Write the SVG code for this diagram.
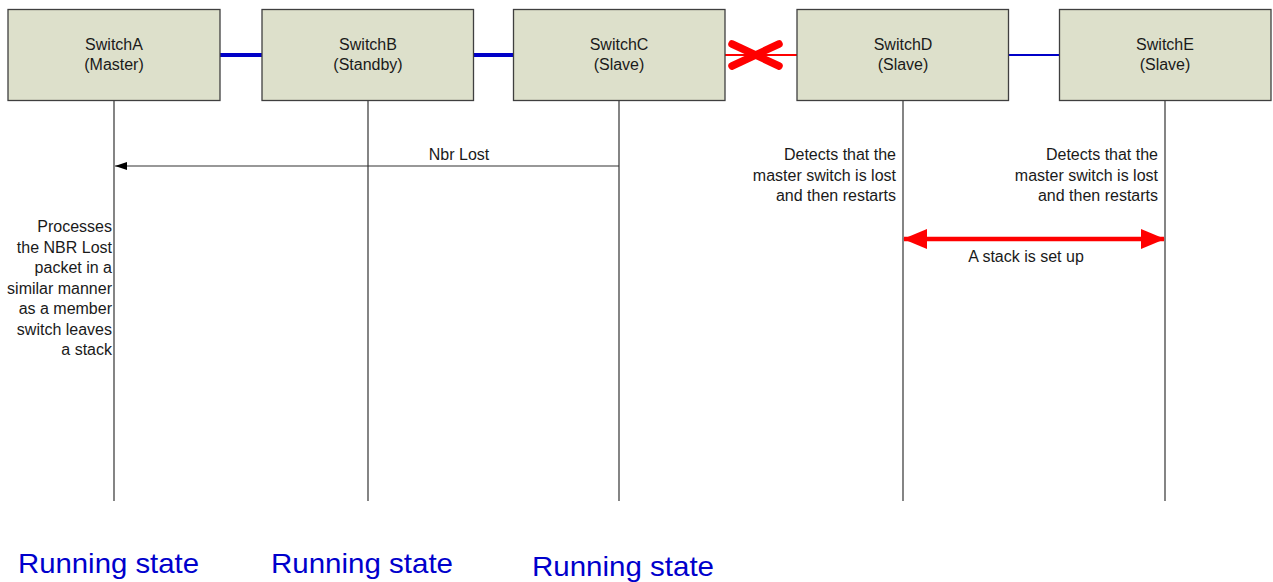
<svg xmlns="http://www.w3.org/2000/svg" width="1273" height="582" viewBox="0 0 1273 582">
  <style>
    .box { fill: #dde0cb; stroke: #3f3f3f; stroke-width: 1.3; }
    .lbl { font-family: "Liberation Sans", Arial, sans-serif; font-size: 16px; fill: #1a1a1a; }
    .mid { text-anchor: middle; }
    .end { text-anchor: end; }
    .life { stroke: #333333; stroke-width: 1.2; fill: none; }
    .state { font-family: "Liberation Sans", Arial, sans-serif; font-size: 28px; fill: #0000cc; }
  </style>
  <defs>
    <marker id="msgHead" viewBox="0 0 12 8" refX="12" refY="4" markerWidth="12" markerHeight="8" markerUnits="userSpaceOnUse" orient="auto-start-reverse">
      <path d="M0,0 L12,4 L0,8 z" fill="#000000"/>
    </marker>
    <marker id="redHead" viewBox="0 0 24 20" refX="23" refY="10" markerWidth="24" markerHeight="20" markerUnits="userSpaceOnUse" orient="auto-start-reverse">
      <path d="M0,0 L24,10 L0,20 z" fill="#ff0000"/>
    </marker>
  </defs>

  <!-- stack links between the switches -->
  <g id="connectors">
    <line x1="220" y1="55" x2="262" y2="55" stroke="#0000c8" stroke-width="4"/>
    <line x1="473" y1="55" x2="514" y2="55" stroke="#0000c8" stroke-width="4"/>
    <line x1="725" y1="55" x2="797" y2="55" stroke="#ff0000" stroke-width="2"/>
    <line x1="1008" y1="55" x2="1059" y2="55" stroke="#0000c8" stroke-width="2"/>
    <!-- broken link mark -->
    <g stroke="#ff0000" stroke-width="7.5" stroke-linecap="round">
      <line x1="732" y1="44" x2="779" y2="66"/>
      <line x1="732" y1="66" x2="779" y2="44"/>
    </g>

    <!-- lifelines -->
    <line class="life" x1="114" y1="100" x2="114" y2="501"/>
    <line class="life" x1="368" y1="100" x2="368" y2="501" stroke="#555555"/>
    <line class="life" x1="619" y1="100" x2="619" y2="501"/>
    <line class="life" x1="903" y1="100" x2="903" y2="501"/>
    <line class="life" x1="1165" y1="100" x2="1165" y2="501"/>

    <!-- Nbr Lost message -->
    <line x1="619" y1="166" x2="115" y2="166" stroke="#333333" stroke-width="1.2" marker-end="url(#msgHead)"/>
    <text class="lbl mid" x="459" y="160">Nbr Lost</text>

    <!-- new stack between D and E -->
    <line x1="904" y1="239" x2="1164" y2="239" stroke="#ff0000" stroke-width="4.5" marker-start="url(#redHead)" marker-end="url(#redHead)"/>
    <text class="lbl mid" x="1026" y="262">A stack is set up</text>
  </g>

  <g id="switchA">
    <rect class="box" x="8" y="9.5" width="212" height="91"/>
    <text class="lbl mid" x="114" y="50">SwitchA</text>
    <text class="lbl mid" x="114" y="70">(Master)</text>
  </g>
  <g id="switchB">
    <rect class="box" x="262" y="9.5" width="211.5" height="91"/>
    <text class="lbl mid" x="368" y="50">SwitchB</text>
    <text class="lbl mid" x="368" y="70">(Standby)</text>
  </g>
  <g id="switchC">
    <rect class="box" x="513.5" y="9.5" width="211.5" height="91"/>
    <text class="lbl mid" x="619" y="50">SwitchC</text>
    <text class="lbl mid" x="619" y="70">(Slave)</text>
  </g>
  <g id="switchD">
    <rect class="box" x="797" y="9.5" width="211.5" height="91"/>
    <text class="lbl mid" x="903" y="50">SwitchD</text>
    <text class="lbl mid" x="903" y="70">(Slave)</text>
  </g>
  <g id="switchE">
    <rect class="box" x="1059.5" y="9.5" width="211.5" height="91"/>
    <text class="lbl mid" x="1165" y="50">SwitchE</text>
    <text class="lbl mid" x="1165" y="70">(Slave)</text>
  </g>

  <!-- notes beside the lifelines -->
  <g id="noteA">
    <text class="lbl end" x="112" y="232">Processes</text>
    <text class="lbl end" x="112" y="252.5">the NBR Lost</text>
    <text class="lbl end" x="112" y="273">packet in a</text>
    <text class="lbl end" x="112" y="293.5">similar manner</text>
    <text class="lbl end" x="112" y="314">as a member</text>
    <text class="lbl end" x="112" y="334.5">switch leaves</text>
    <text class="lbl end" x="112" y="355">a stack</text>
  </g>
  <g id="noteD">
    <text class="lbl end" x="896" y="160">Detects that the</text>
    <text class="lbl end" x="896" y="180.5">master switch is lost</text>
    <text class="lbl end" x="896" y="201">and then restarts</text>
  </g>
  <g id="noteE">
    <text class="lbl end" x="1158" y="160">Detects that the</text>
    <text class="lbl end" x="1158" y="180.5">master switch is lost</text>
    <text class="lbl end" x="1158" y="201">and then restarts</text>
  </g>

  <!-- state labels -->
  <g id="states">
    <text class="state" x="18" y="573" textLength="181" lengthAdjust="spacingAndGlyphs">Running state</text>
    <text class="state" x="271" y="573" textLength="182" lengthAdjust="spacingAndGlyphs">Running state</text>
    <text class="state" x="532" y="576" textLength="182" lengthAdjust="spacingAndGlyphs">Running state</text>
  </g>
</svg>
